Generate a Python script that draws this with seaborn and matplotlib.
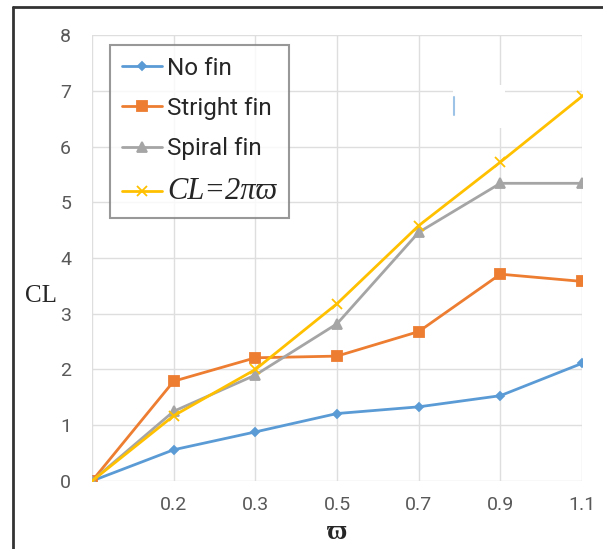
import numpy as np
import pandas as pd
import seaborn as sns
import matplotlib.pyplot as plt
from matplotlib.lines import Line2D
from matplotlib.patches import Rectangle

# values
omega = ["0", "0.2", "0.3", "0.5", "0.7", "0.9", "1.1"]
no_fin = [0, 0.56, 0.88, 1.21, 1.33, 1.53, 2.11]
stright_fin = [0, 1.79, 2.21, 2.24, 2.68, 3.71, 3.58]
spiral_fin = [0, 1.25, 1.90, 2.82, 4.46, 5.34, 5.34]
cl_theory = [0, 1.17, 2.00, 3.18, 4.58, 5.72, 6.90]

series_names = ["No fin", "Stright fin", "Spiral fin", "CL=2πϖ"]
colors = ["#5B9BD5", "#ED7D31", "#A5A5A5", "#FFC000"]
markers = ["D", "s", "^", "x"]
msizes = [4, 6.5, 6.5, 7]

df = pd.DataFrame({
    "omega": omega * 4,
    "CL": no_fin + stright_fin + spiral_fin + cl_theory,
    "series": np.repeat(series_names, len(omega)),
})

sns.set_style("white")
plt.rcParams['font.family'] = ['Roboto', 'DejaVu Sans']

fig = plt.figure(figsize=(6.03, 5.49), dpi=100)
ax = fig.add_axes([0.1526, 0.1239, 0.8126, 0.8123])

for name, c, m, ms in zip(series_names, colors, markers, msizes):
    sub = df[df["series"] == name]
    sns.lineplot(data=sub, x="omega", y="CL", color=c, marker=m,
                 markersize=ms, markeredgecolor=c, markeredgewidth=1.3,
                 linewidth=2, label=name, ax=ax, zorder=3)

ax.set_xlim(0, len(omega) - 1)
ax.set_ylim(0, 8)
ax.set_yticks(range(0, 9))
ax.set_xticks(range(len(omega)))
ax.set_xticklabels([""] + omega[1:])
ax.grid(True, color="#DEDEDE", linewidth=1)
ax.set_axisbelow(True)
for s in ax.spines.values():
    s.set_visible(False)
ax.tick_params(axis="both", length=0, labelsize=14, labelcolor="#595959")
ax.tick_params(axis="y", pad=15)
ax.tick_params(axis="x", pad=11)

ax.set_xlabel("ϖ", family=['Liberation Serif', 'DejaVu Serif'], fontsize=20,
              fontweight="bold", labelpad=4)
ax.set_ylabel("CL", family=['Liberation Serif', 'DejaVu Serif'], fontsize=18,
              rotation=0, va="center")
ax.yaxis.set_label_coords(-0.105, 0.415)

# white blotch and stray stroke present in the source image
ax.add_patch(Rectangle((0.737, 0.791), 0.106, 0.097, transform=ax.transAxes,
                       facecolor="white", edgecolor="none", zorder=1))
ax.add_line(Line2D([0.739, 0.739], [0.821, 0.861], transform=ax.transAxes,
                   color="#9DC3E6", linewidth=1.5, zorder=2))

leg = ax.legend(loc="upper left", bbox_to_anchor=(0.0367, 0.978), borderaxespad=0,
                fontsize=17.5, frameon=True, fancybox=False, edgecolor="#7F7F7F",
                handlelength=1.65, handletextpad=0.2, labelspacing=0.7,
                borderpad=0.5)
leg.get_frame().set_linewidth(1.5)
for t in leg.get_texts():
    t.set_color("#262626")
last = leg.get_texts()[3]
last.set_family(['Liberation Serif', 'DejaVu Serif'])
last.set_fontstyle("italic")
last.set_fontsize(22)

# frame around the picture (left and top edges)
fig.add_artist(Line2D([0.0216, 0.0216], [0, 0.987], transform=fig.transFigure,
                      color="#333333", linewidth=2))
fig.add_artist(Line2D([0.0216, 1], [0.987, 0.987], transform=fig.transFigure,
                      color="#333333", linewidth=2))

fig.savefig("out.png", dpi=100)
